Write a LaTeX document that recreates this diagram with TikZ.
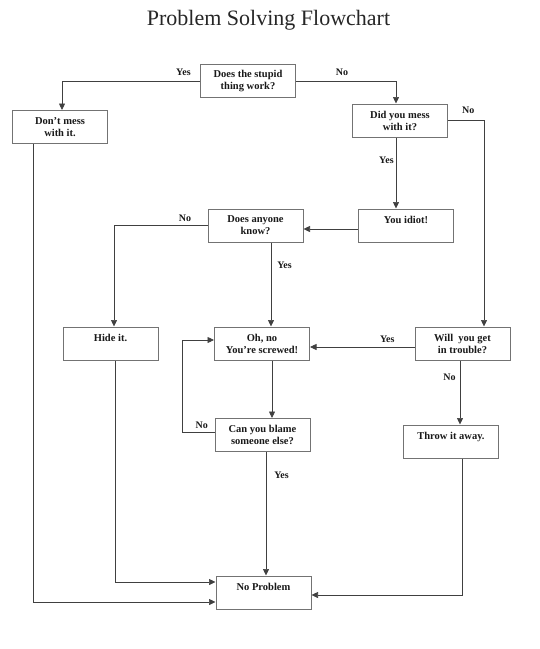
\documentclass[tikz,border=0pt]{standalone}
\usepackage{fontspec}
\setmainfont{Liberation Serif}
\usetikzlibrary{arrows.meta}

\begin{document}
\begin{tikzpicture}[x=1pt, y=-1pt,
        box/.style={draw=black!55, line width=1pt, minimum width=95pt, minimum height=33pt,
          inner sep=0pt, align=center, font=\fontsize{10.5}{12}\selectfont\bfseries, text=black!90},
        arr/.style={draw=black!75, line width=0.7pt, -{Triangle[length=6.5pt,width=6pt]}},
        lab/.style={font=\fontsize{10}{12}\selectfont\bfseries, text=black!90, inner sep=2pt}]
        \useasboundingbox (0,0) rectangle (540,649);

        \node[font=\fontsize{22}{26}\selectfont, text=black!85] (title) at (268.5,20) {Problem Solving Flowchart};

        \node[box] (work) at (248,81) {Does the stupid\\thing work?};
        \node[box] (dont) at (60,127) {Don’t mess\\with it.};
        \node[box] (mess) at (400,120.5) {Did you mess\\with it?};
        \node[box] (idiot) at (406,225.5) {You idiot!\\~};
        \node[box] (know) at (255.5,225.5) {Does anyone\\know?};
        \node[box] (hide) at (110.5,343.5) {Hide it.\\~};
        \node[box] (screwed) at (262,343.5) {Oh, no\\You’re screwed!};
        \node[box] (trouble) at (462.5,343.5) {Will~ you get\\in trouble?};
        \node[box] (blame) at (262.5,435) {Can you blame\\someone else?};
        \node[box] (throw) at (451,441.5) {Throw it away.\\~};
        \node[box] (noprob) at (263.5,592.5) {No Problem\\~};

        \draw[arr] (work.west) -| node[lab, above=3pt, pos=0.06] {Yes} ([xshift=2pt]dont.north);
        \draw[arr] (work.east) -| node[lab, above=3pt, pos=0.23] {No} ([xshift=-4pt]mess.north);
        \draw[arr] (mess.east) -| node[lab, above=5pt, pos=0.28] {No} ([xshift=21.5pt]trouble.north);
        \draw[arr] ([xshift=-4pt]mess.south) -- node[lab, left, pos=0.32] {Yes} ([xshift=-10pt]idiot.north);
        \draw[arr] ([yshift=-3.5pt]idiot.west) -- ([yshift=-3.5pt]know.east);
        \draw[arr] (know.west) -| node[lab, above=2pt, pos=0.12] {No} ([xshift=3.5pt]hide.north);
        \draw[arr] ([xshift=15.5pt]know.south) -- node[lab, right=4pt, pos=0.27] {Yes} ([xshift=9pt]screwed.north);
        \draw[arr] ([yshift=-3.5pt]trouble.west) -- node[lab, above=2pt, pos=0.26] {Yes} ([yshift=-3.5pt]screwed.east);
        \draw[arr] ([xshift=10pt]screwed.south) -- ([xshift=9.5pt]blame.north);
        \draw[arr] ([yshift=3pt]blame.west) -- node[lab, above=1pt, pos=0.4] {No} ++(-32,0) |- ([yshift=3.5pt]screwed.west);
        \draw[arr] ([xshift=3.5pt]blame.south) -- node[lab, right=6pt, pos=0.19] {Yes} ([xshift=2.5pt]noprob.north);
        \draw[arr] ([xshift=-2.5pt]trouble.south) -- node[lab, left=2pt, pos=0.26] {No} ([xshift=9pt]throw.north);
        \draw[arr] ([xshift=11pt]throw.south) |- ([yshift=-2.5pt]noprob.east);
        \draw[arr] ([xshift=4.5pt]hide.south) |- ([yshift=10.5pt]noprob.west);
        \draw[arr] ([xshift=-27pt]dont.south) |- ([yshift=-9.5pt]noprob.west);
      \end{tikzpicture}
\end{document}
